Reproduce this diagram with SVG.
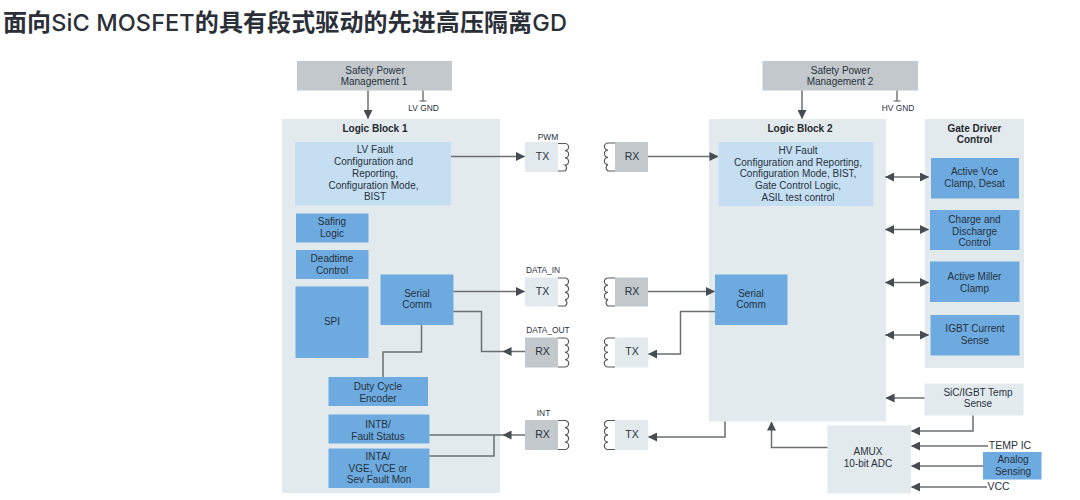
<svg xmlns="http://www.w3.org/2000/svg" width="1080" height="500" viewBox="0 0 1080 500">
<style>
text{font-family:"Liberation Sans",Arial,sans-serif;font-size:10px;fill:#27323c;text-anchor:middle}
.title{font-family:"Noto Sans CJK SC","Noto Sans",sans-serif;font-size:24px;font-weight:700;fill:#2b3038;text-anchor:start}
.lat{font-family:Inter,"Noto Sans",sans-serif;font-weight:500;font-size:23.500px}
.b{font-weight:700;fill:#25292e}
.s{font-size:8.400px}
.tr{font-size:10.500px}
.gray{fill:#c2c8cc}
.pale{fill:#e3eaee}
.light{fill:#c5def2}
.blue{fill:#6daae0}
.c{fill:none;stroke:#6b6f72;stroke-width:1.5}
.coil{fill:none;stroke:#55595c;stroke-width:1.2}
.al{marker-end:url(#ah)}
.dbl{marker-start:url(#as);marker-end:url(#ah)}
</style>
<defs>
<marker id="ah" viewBox="0 0 10 10" refX="9.5" refY="5" markerUnits="userSpaceOnUse" markerWidth="9" markerHeight="9" orient="auto"><path d="M0 0L10 5L0 10Z" fill="#454c52"/></marker>
<marker id="as" viewBox="0 0 10 10" refX="0.5" refY="5" markerUnits="userSpaceOnUse" markerWidth="9" markerHeight="9" orient="auto"><path d="M10 0L0 5L10 10Z" fill="#454c52"/></marker>
</defs>
<rect width="1080" height="500" fill="#fff"/>
<text class="title" x="3" y="31" letter-spacing="0.1">面向<tspan class="lat">SiC MOSFET</tspan>的具有段式驱动的先进高压隔离<tspan class="lat">GD</tspan></text>

<g id="logic-block-1"><rect class="pale" x="282" y="119" width="218" height="374"/><text class="b" x="375" y="131.500">Logic Block 1</text></g>
<g id="logic-block-2"><rect class="pale" x="709" y="119" width="177" height="302.500"/><text class="b" x="800" y="131.500">Logic Block 2</text></g>
<g id="gate-driver-control"><rect class="pale" x="925" y="119" width="99" height="249"/><text class="b" x="974.500" y="131.500">Gate Driver</text><text class="b" x="974.500" y="143">Control</text></g>

<g id="safety-power-1"><rect class="gray" x="297" y="61" width="155" height="29.500"/><text x="375" y="73.500">Safety Power</text><text x="374" y="85">Management 1</text></g>
<g id="safety-power-2"><rect class="gray" x="762.500" y="61" width="155.500" height="29.500"/><text x="840.500" y="73.500">Safety Power</text><text x="840" y="85">Management 2</text></g>
<g id="lv-gnd"><path class="coil" d="M423 90.500V101M419.500 101H426.500"/><text class="s" x="423.500" y="111">LV GND</text></g>
<g id="hv-gnd"><path class="coil" d="M897 90.500V101M893.500 101H900.500"/><text class="s" x="898" y="111">HV GND</text></g>

<g id="lv-fault"><rect class="light" x="295" y="142" width="156" height="63.500"/><text x="375" y="153">LV Fault</text><text x="373.500" y="164.500">Configuration and</text><text x="375" y="176.500">Reporting,</text><text x="373.500" y="188.500">Configuration Mode,</text><text x="375" y="200">BIST</text></g>
<g id="safing"><rect class="blue" x="296" y="213.500" width="72.500" height="29"/><text x="332" y="225">Safing</text><text x="332" y="237">Logic</text></g>
<g id="deadtime"><rect class="blue" x="296" y="250" width="72.500" height="29"/><text x="332" y="261.500">Deadtime</text><text x="332" y="273.500">Control</text></g>
<g id="spi"><rect class="blue" x="295.500" y="286.500" width="73" height="71.500"/><text x="332" y="324.500">SPI</text></g>
<g id="serial-comm-1"><rect class="blue" x="380.500" y="274.500" width="73" height="50.500"/><text x="417" y="296.500">Serial</text><text x="417" y="308">Comm</text></g>
<g id="duty-cycle"><rect class="blue" x="328.500" y="377" width="99.500" height="29"/><text x="378" y="390">Duty Cycle</text><text x="378" y="401.500">Encoder</text></g>
<g id="intb"><rect class="blue" x="328.500" y="414.500" width="101" height="29"/><text x="378" y="427.500">INTB/</text><text x="378" y="439.500">Fault Status</text></g>
<g id="inta"><rect class="blue" x="328.500" y="448.500" width="101" height="39.500"/><text x="378" y="459.500">INTA/</text><text x="378" y="471.500">VGE, VCE or</text><text x="379" y="483">Sev Fault Mon</text></g>

<g id="hv-fault"><rect class="light" x="718.500" y="142" width="155" height="64"/><text x="798" y="153.500">HV Fault</text><text x="798" y="165.500">Configuration and Reporting,</text><text x="798" y="177">Configuration Mode, BIST,</text><text x="798" y="189">Gate Control Logic,</text><text x="798" y="201">ASIL test control</text></g>
<g id="serial-comm-2"><rect class="blue" x="715" y="274.500" width="72.500" height="50.500"/><text x="751" y="296.500">Serial</text><text x="751" y="308">Comm</text></g>
<g id="active-vce"><rect class="blue" x="931" y="158" width="88" height="40.500"/><text x="974.500" y="175">Active Vce</text><text x="974.500" y="187">Clamp, Desat</text></g>
<g id="charge"><rect class="blue" x="930" y="210" width="89.500" height="40"/><text x="974.500" y="222.500">Charge and</text><text x="974.500" y="234.500">Discharge</text><text x="974.500" y="246">Control</text></g>
<g id="active-miller"><rect class="blue" x="930" y="261.500" width="89.500" height="40.500"/><text x="974.500" y="279.500">Active Miller</text><text x="974.500" y="291.500">Clamp</text></g>
<g id="igbt-current"><rect class="blue" x="930.500" y="315" width="89" height="40.500"/><text x="975" y="332">IGBT Current</text><text x="975" y="344">Sense</text></g>
<g id="temp-sense"><rect class="pale" x="924.500" y="383.500" width="99" height="32"/><text x="978" y="395.500">SiC/IGBT Temp</text><text x="978" y="407">Sense</text></g>
<g id="amux"><rect class="pale" x="827.500" y="425.500" width="83.500" height="68"/><text x="868" y="455">AMUX</text><text x="868" y="467">10-bit ADC</text></g>
<g id="analog"><rect class="blue" x="983" y="452" width="58.500" height="27.500"/><text x="1013" y="462.500">Analog</text><text x="1013" y="474.500">Sensing</text></g>
<g id="temp-ic-label"><text class="tr" x="1010" y="449">TEMP IC</text></g>
<g id="vcc-label"><text class="tr" x="998.500" y="490">VCC</text></g>

<g id="tx-pwm"><rect class="pale" x="525" y="142" width="33" height="30"/><text class="tr" x="542.500" y="160">TX</text><path class="coil" d="M558 143.500H565a3.600 3.600 0 0 1 0 7.200a3.600 3.600 0 0 1 0 7.200a3.600 3.600 0 0 1 0 7.200a3.600 3.600 0 0 1 0 5.900H558"/><text class="s" x="548" y="140">PWM</text></g>
<g id="tx-data-in"><rect class="pale" x="525" y="277.500" width="33" height="29"/><text class="tr" x="542.500" y="294.500">TX</text><path class="coil" d="M558 278H565a3.600 3.600 0 0 1 0 7.200a3.600 3.600 0 0 1 0 7.200a3.600 3.600 0 0 1 0 7.200a3.600 3.600 0 0 1 0 6.400H558"/><text class="s" x="543" y="273">DATA_IN</text></g>
<g id="rx-data-out"><rect class="gray" x="525" y="337.500" width="33" height="30"/><text class="tr" x="542.500" y="355">RX</text><path class="coil" d="M558 338H565a3.600 3.600 0 0 1 0 7.200a3.600 3.600 0 0 1 0 7.200a3.600 3.600 0 0 1 0 7.200a3.600 3.600 0 0 1 0 7.400H558"/><text class="s" x="548" y="333">DATA_OUT</text></g>
<g id="rx-int"><rect class="gray" x="525" y="420" width="33" height="30"/><text class="tr" x="542.500" y="438">RX</text><path class="coil" d="M558 420.500H565a3.600 3.600 0 0 1 0 7.200a3.600 3.600 0 0 1 0 7.200a3.600 3.600 0 0 1 0 7.200a3.600 3.600 0 0 1 0 7.400H558"/><text class="s" x="543.500" y="416">INT</text></g>

<g id="rx-pwm"><rect class="gray" x="615" y="142" width="33" height="30"/><text class="tr" x="632" y="160">RX</text><path class="coil" d="M615 143H608a3.600 3.600 0 0 0 0 7.200a3.600 3.600 0 0 0 0 7.200a3.600 3.600 0 0 0 0 7.200a3.600 3.600 0 0 0 0 6.400H615"/></g>
<g id="rx-data-in"><rect class="gray" x="615" y="277.500" width="33" height="29"/><text class="tr" x="632" y="294.500">RX</text><path class="coil" d="M615 278H608a3.600 3.600 0 0 0 0 7.200a3.600 3.600 0 0 0 0 7.200a3.600 3.600 0 0 0 0 7.200a3.600 3.600 0 0 0 0 6.400H615"/></g>
<g id="tx-data-out"><rect class="pale" x="615" y="337.500" width="33" height="30"/><text class="tr" x="632" y="355">TX</text><path class="coil" d="M615 338H608a3.600 3.600 0 0 0 0 7.200a3.600 3.600 0 0 0 0 7.200a3.600 3.600 0 0 0 0 7.200a3.600 3.600 0 0 0 0 7.400H615"/></g>
<g id="tx-int"><rect class="pale" x="615" y="420" width="33" height="30"/><text class="tr" x="632" y="438">TX</text><path class="coil" d="M615 420.500H608a3.600 3.600 0 0 0 0 7.200a3.600 3.600 0 0 0 0 7.200a3.600 3.600 0 0 0 0 7.200a3.600 3.600 0 0 0 0 7.400H615"/></g>

<g id="connectors">
<path class="c al" d="M368 90.500V118.500"/>
<path class="c al" d="M802 90.500V118.500"/>
<path class="c al" d="M451 156.500H524.500"/>
<path class="c al" d="M648 156.500H718"/>
<path class="c al" d="M453.500 291.500H524.500"/>
<path class="c al" d="M648 291.500H714.500"/>
<path class="c al" d="M525 351.500H503"/>
<path class="c" d="M503 351.500H481.500V311.500H453.500"/>
<path class="c al" d="M715 311.500H680.500V354H648.500"/>
<path class="c" d="M421.500 325V352H383V377"/>
<path class="c" d="M503 435H429.500M429.500 456H494V435"/>
<path class="c al" d="M525 435H503"/>
<path class="c al" d="M725 421.500V437H648.500"/>
<path class="c al" d="M827.500 447.500H771.500V422"/>
<path class="c dbl" d="M885.500 177H928.500"/>
<path class="c dbl" d="M885.500 229.500H928.500"/>
<path class="c dbl" d="M885.500 282.500H928.500"/>
<path class="c dbl" d="M885.500 335H928.500"/>
<path class="c al" d="M924.500 398H886"/>
<path class="c al" d="M973 415.500V431H911.500"/>
<path class="c al" d="M988 446H911.500"/>
<path class="c al" d="M983 466H911.500"/>
<path class="c al" d="M987 487H911.500"/>
</g>
</svg>
